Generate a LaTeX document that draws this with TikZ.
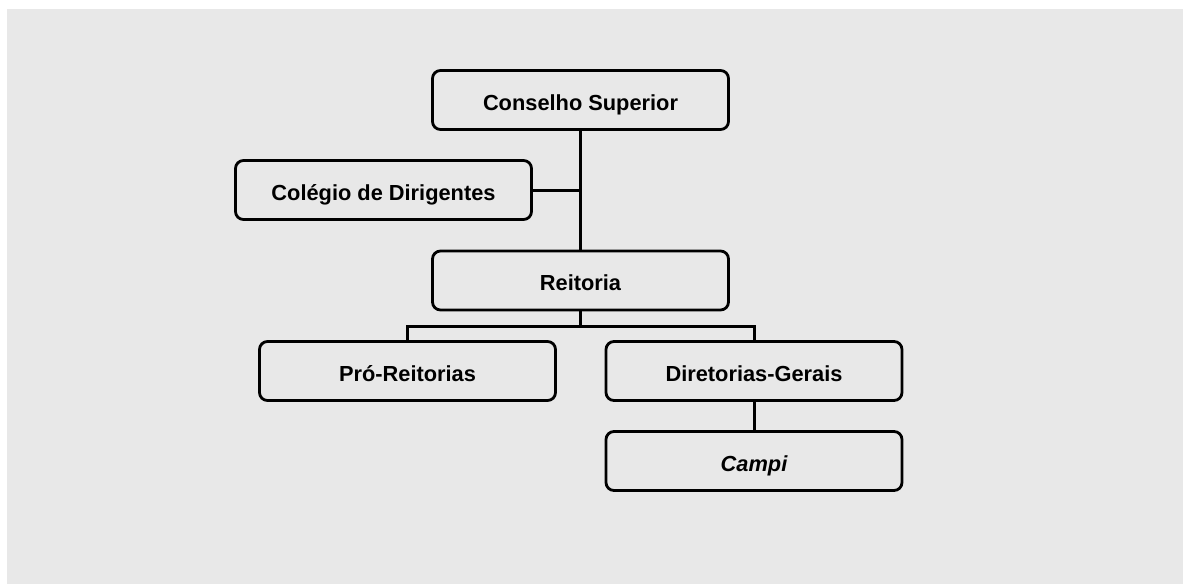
\documentclass[tikz,border=0pt]{standalone}
\usepackage{fontspec}
\setmainfont{Liberation Sans}
\definecolor{bggray}{HTML}{E8E8E8}
\begin{document}
\begin{tikzpicture}[x=1pt,y=-1pt,
  orgbox/.style={draw=black, line width=2.8pt, rounded corners=8pt, fill=bggray,
    rectangle, inner sep=0pt, minimum width=296pt, minimum height=59pt,
    text height=20pt, text depth=0pt,
    font=\fontsize{21.8}{24}\selectfont\bfseries, text=black},
  link/.style={draw=black, line width=3pt}]
\useasboundingbox (0,0) rectangle (1183,584);
\fill[white] (0,0) rectangle (1183,584);
\fill[bggray] (7,9) rectangle (1183,584);
\node[orgbox] (cs) at (580.5,100) {Conselho Superior};
\node[orgbox] (cd) at (383.5,190) {Colégio de Dirigentes};
\node[orgbox] (re) at (580.5,280.5) {Reitoria};
\node[orgbox] (pr) at (407.5,371) {Pró-Reitorias};
\node[orgbox] (dg) at (754,371) {Diretorias-Gerais};
\node[orgbox] (ca) at (754,461) {\itshape Campi};
\coordinate (j1) at (580.5,190);
\coordinate (bar) at (580.5,326);
\draw[link] (cs.south) -- (re.north);
\draw[link] (cd.east) -- (j1);
\draw[link] (re.south) -- (bar);
\draw[link] (pr.north) |- (bar) -| (dg.north);
\draw[link] (dg.south) -- (ca.north);
\end{tikzpicture}
\end{document}
